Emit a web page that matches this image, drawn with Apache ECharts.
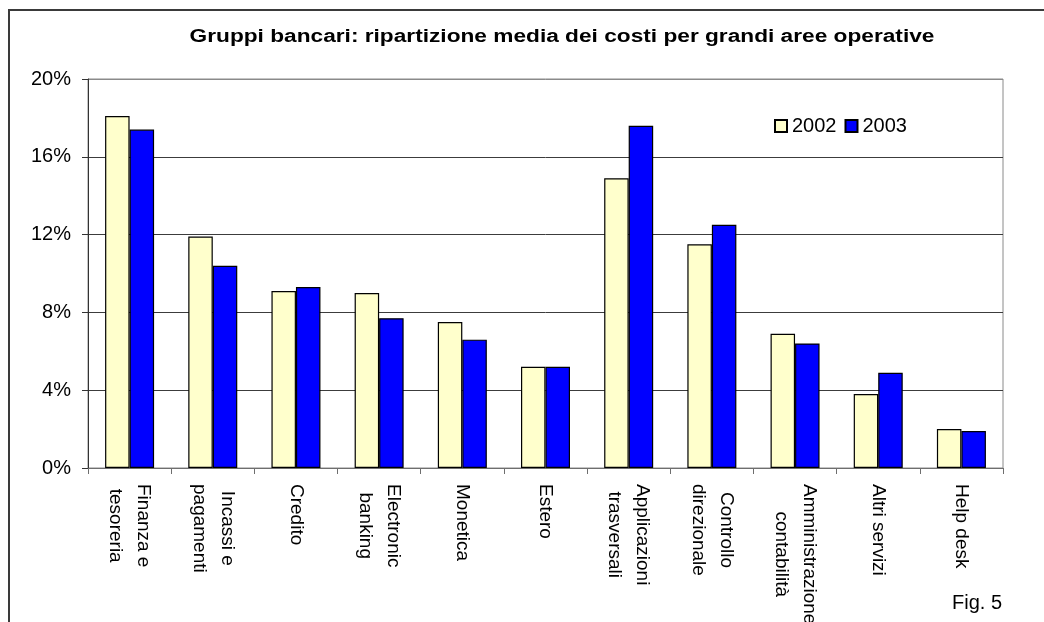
<!DOCTYPE html>
<html>
<head>
<meta charset="utf-8">
<script src="https://cdn.jsdelivr.net/npm/echarts@6/dist/echarts.min.js"></script>
<style>
  html, body { margin: 0; padding: 0; background: #fff; }
  #chart { width: 1044px; height: 622px; }
</style>
</head>
<body>
<div id="chart"></div>
<script>
// Aree operative (asse delle categorie)
const categories = [
  'Finanza e\ntesoreria',
  'Incassi e\npagamenti',
  'Credito',
  'Electronic\nbanking',
  'Monetica',
  'Estero',
  'Applicazioni\ntrasversali',
  'Controllo\ndirezionale',
  'Amministrazione\ncontabilità',
  'Altri servizi',
  'Help desk'
];

// Quota percentuale dei costi per anno
const costs2002 = [18.1, 11.9, 9.1, 9.0, 7.5, 5.2, 14.9, 11.5, 6.9, 3.8, 2.0];
const costs2003 = [17.4, 10.4, 9.3, 7.7, 6.6, 5.2, 17.6, 12.5, 6.4, 4.9, 1.9];

const seriesNames = ['2002', '2003'];
const yTicks = { min: 0, max: 20, step: 4 };

const FONT = '"Liberation Sans", Arial, sans-serif';

const chart = echarts.init(document.getElementById('chart'));

chart.setOption({
  animation: false,
  backgroundColor: '#ffffff',
  textStyle: { fontFamily: FONT },
  graphic: [
    {
      // cornice del riquadro
      type: 'rect',
      silent: true,
      shape: { x: 9, y: 10, width: 1200, height: 800 },
      style: { fill: 'none', stroke: '#3a3a3a', lineWidth: 2 }
    },
    {
      type: 'text',
      x: 562,
      y: 37,
      scaleX: 1.26,
      style: {
        text: 'Gruppi bancari: ripartizione media dei costi per grandi aree operative',
        font: 'bold 18px ' + FONT,
        fill: '#000',
        textAlign: 'center',
        textVerticalAlign: 'middle'
      }
    },
    {
      type: 'text',
      x: 952,
      y: 603,
      style: {
        text: 'Fig. 5',
        font: '20px ' + FONT,
        fill: '#000',
        textAlign: 'left',
        textVerticalAlign: 'middle'
      }
    }
  ],
  legend: {
    data: seriesNames,
    left: 769,
    top: 111,
    itemWidth: 12,
    itemHeight: 12,
    itemGap: 8,
    icon: 'rect',
    textStyle: { fontSize: 20, color: '#000', fontFamily: FONT }
  },
  grid: {
    left: 88,
    right: 41,
    top: 79,
    bottom: 154,
    outerBoundsMode: 'none',
    containLabel: false,
    show: true,
    borderColor: '#8a8a8a',
    borderWidth: 1
  },
  xAxis: {
    type: 'category',
    data: categories,
    axisLine: { lineStyle: { color: '#6e6e6e', width: 1 } },
    axisTick: { show: true, length: 6, lineStyle: { color: '#6e6e6e' } },
    axisLabel: {
      rotate: -90,
      margin: 16,
      interval: 0,
      color: '#000',
      formatter: function (v) {
        return v.split('\n').map(function (l) { return '{c|' + l + '}'; }).join('\n');
      },
      rich: {
        c: { align: 'center', fontSize: 19, lineHeight: 28, color: '#000', fontFamily: FONT }
      }
    }
  },
  yAxis: {
    type: 'value',
    min: yTicks.min,
    max: yTicks.max,
    interval: yTicks.step,
    axisLine: { show: true, lineStyle: { color: '#333', width: 1 } },
    axisTick: { show: true, length: 6, lineStyle: { color: '#333' } },
    axisLabel: {
      formatter: '{value}%',
      fontSize: 20,
      margin: 17,
      color: '#000',
      fontFamily: FONT
    },
    splitLine: {
      show: true,
      lineStyle: { color: ['#6e6e6e', '#3c3c3c', '#3c3c3c', '#3c3c3c', '#3c3c3c', '#8a8a8a'], width: 1 }
    }
  },
  series: [
    {
      name: seriesNames[0],
      type: 'bar',
      data: costs2002,
      barWidth: 24.5,
      barGap: '0%',
      itemStyle: { color: '#FFFFCC', borderColor: '#000', borderWidth: 1.2 }
    },
    {
      name: seriesNames[1],
      type: 'bar',
      data: costs2003,
      barWidth: 24.5,
      barGap: '0%',
      itemStyle: { color: '#0000FF', borderColor: '#000', borderWidth: 1.2 }
    }
  ]
});
</script>
</body>
</html>
